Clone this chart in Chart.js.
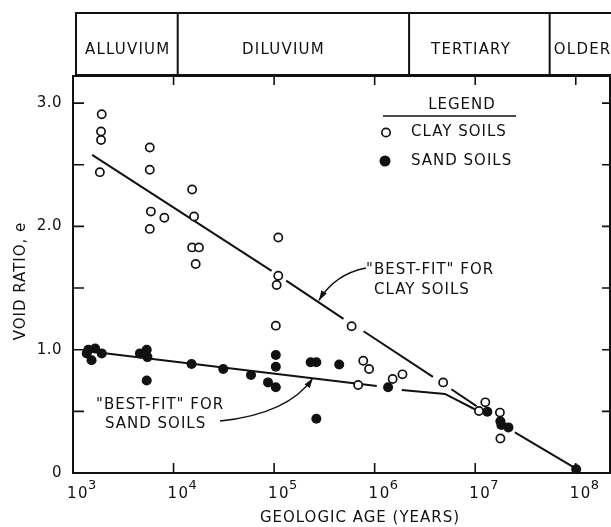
<!DOCTYPE html>
<html>
<head>
<meta charset="utf-8">
<script src="https://cdn.jsdelivr.net/npm/chart.js@4.4.1/dist/chart.umd.min.js"></script>
<style>
  html, body { margin: 0; padding: 0; background: #fff; }
  canvas { display: block; }
</style>
</head>
<body>
<canvas id="c" width="611" height="527"></canvas>
<script>
// Void ratio of natural soil deposits against geologic age (log scale)

// Clay soils (open circles): age in years, void ratio e
const clayAge  = [1.93e3, 1.9e3, 1.9e3, 1.85e3, 5.8e3, 5.8e3, 5.95e3, 5.8e3, 8.1e3,
                  1.53e4, 1.6e4, 1.53e4, 1.79e4, 1.66e4,
                  1.1e5, 1.1e5, 1.06e5, 1.04e5,
                  5.9e5, 7.7e5, 8.8e5, 6.85e5, 1.51e6, 1.89e6, 4.8e6,
                  1.26e7, 1.09e7, 1.76e7, 1.78e7];
const clayVoid = [2.91, 2.77, 2.70, 2.44, 2.64, 2.46, 2.12, 1.98, 2.07,
                  2.30, 2.08, 1.83, 1.83, 1.695,
                  1.91, 1.60, 1.525, 1.195,
                  1.19, 0.91, 0.843, 0.714, 0.762, 0.80, 0.735,
                  0.573, 0.503, 0.49, 0.28];

// Sand soils (filled circles)
const sandAge  = [1.37e3, 1.42e3, 1.66e3, 1.93e3, 1.53e3, 4.63e3, 5.41e3, 5.5e3, 5.41e3,
                  1.51e4, 3.12e4, 5.89e4, 1.04e5, 1.04e5, 8.7e4, 1.04e5,
                  2.31e5, 2.63e5, 4.44e5, 2.63e5, 1.36e6,
                  1.32e7, 1.82e7, 2.14e7, 1.78e7, 1.01e8];
const sandVoid = [0.97, 1.00, 1.01, 0.97, 0.915, 0.97, 1.00, 0.94, 0.75,
                  0.884, 0.843, 0.795, 0.957, 0.862, 0.735, 0.695,
                  0.898, 0.898, 0.88, 0.44, 0.695,
                  0.497, 0.39, 0.37, 0.42, 0.03];

// Best-fit lines, drawn in pieces (null = break in the drawn line)
const clayFitAge  = [1.55e3, 9.44e4, null, 1.32e5, 4.9e5, null, 7.76e5, 3.8e6, null,
                     5.8e6, 1.03e7, null, 2.48e7, 9.4e7];
const clayFitVoid = [2.58, 1.64, null, 1.56, 1.25, null, 1.15, 0.78, null,
                     0.679, 0.543, null, 0.33, 0.05];
const sandFitAge  = [1.35e3, 1.05e6, null, 1.86e6, 5.0e6, 9.9e6];
const sandFitVoid = [0.99, 0.705, null, 0.673, 0.641, 0.517];

// Axes
const ageMin = 1e3, ageMax = 2.19e8;
const voidMin = 0, voidMax = 3.22;
const ageDecades = [3, 4, 5, 6, 7, 8];
const voidLabelValues = [0, 1.0, 2.0, 3.0];
const voidLabels = ['0', '1.0', '2.0', '3.0'];
const voidTickValues = [0.5, 1.0, 1.5, 2.0, 2.5, 3.0];

// Geologic periods along the top
const periodNames = ['ALLUVIUM', 'DILUVIUM', 'TERTIARY', 'OLDER'];
const periodBounds = [1.1e4, 2.2e6, 5.5e7];
const periodLabelAge = [3.5e3, 1.24e5, 9.1e6, 1.17e8];

const ink = '#111';
const FONT = '"DejaVu Sans", sans-serif';

function pts(xs, ys) {
  return xs.map((v, i) => (v === null ? { x: NaN, y: null } : { x: v, y: ys[i] }));
}

function arrow(ctx, x0, y0, cx, cy, x1, y1) {
  ctx.beginPath();
  ctx.moveTo(x0, y0);
  ctx.quadraticCurveTo(cx, cy, x1, y1);
  ctx.stroke();
  const ang = Math.atan2(y1 - cy, x1 - cx);
  const L = 10, W = 3.2;
  ctx.beginPath();
  ctx.moveTo(x1, y1);
  ctx.lineTo(x1 - L * Math.cos(ang) + W * Math.sin(ang), y1 - L * Math.sin(ang) - W * Math.cos(ang));
  ctx.lineTo(x1 - L * Math.cos(ang) - W * Math.sin(ang), y1 - L * Math.sin(ang) + W * Math.cos(ang));
  ctx.closePath();
  ctx.fill();
}

const decor = {
  id: 'decor',
  beforeDatasetsDraw(chart) {
    const { ctx, chartArea: a, scales: { x, y } } = chart;
    ctx.save();
    ctx.strokeStyle = ink;
    ctx.fillStyle = ink;
    ctx.lineCap = 'butt';

    // plot frame
    ctx.lineWidth = 2;
    ctx.strokeRect(a.left, a.top, a.right - a.left, a.bottom - a.top);

    // inward tick marks
    ctx.lineWidth = 1.6;
    ctx.beginPath();
    ageDecades.forEach(d => {
      if (d === 3) return;
      const px = x.getPixelForValue(Math.pow(10, d));
      ctx.moveTo(px, a.bottom); ctx.lineTo(px, a.bottom - 10);
      ctx.moveTo(px, a.top);    ctx.lineTo(px, a.top + 9);
    });
    voidTickValues.forEach(v => {
      const py = y.getPixelForValue(v);
      ctx.moveTo(a.left, py);  ctx.lineTo(a.left + 11, py);
      ctx.moveTo(a.right, py); ctx.lineTo(a.right - 8, py);
    });
    ctx.stroke();

    // geologic period band
    const bandTop = 13, bandBottom = a.top - 1;
    ctx.lineWidth = 2;
    ctx.beginPath();
    ctx.moveTo(a.left + 3, bandBottom); ctx.lineTo(a.left + 3, bandTop);
    ctx.lineTo(chart.width + 2, bandTop);
    ctx.moveTo(a.left + 3, bandBottom); ctx.lineTo(chart.width + 2, bandBottom);
    periodBounds.forEach(b => {
      const px = x.getPixelForValue(b);
      ctx.moveTo(px, bandTop); ctx.lineTo(px, bandBottom);
    });
    ctx.stroke();

    ctx.font = '15px ' + FONT;
    ctx.letterSpacing = '1.2px';
    ctx.textBaseline = 'middle';
    ctx.textAlign = 'center';
    periodNames.forEach((n, i) => {
      ctx.fillText(n, x.getPixelForValue(periodLabelAge[i]), 50);
    });

    // void ratio labels
    ctx.textAlign = 'right';
    ctx.letterSpacing = '0.5px';
    voidLabelValues.forEach((v, i) => {
      ctx.fillText(voidLabels[i], 62, y.getPixelForValue(v));
    });

    // age labels: 10 with exponent
    ageDecades.forEach(d => {
      const px = x.getPixelForValue(Math.pow(10, d));
      ctx.font = '15px ' + FONT;
      ctx.letterSpacing = '1.5px';
      ctx.textAlign = 'center';
      ctx.fillText('10', px + 5, 494);
      ctx.font = '13px ' + FONT;
      ctx.letterSpacing = '0px';
      ctx.textAlign = 'left';
      ctx.fillText(String(d), px + 15, 486);
    });

    // axis titles
    ctx.font = '15px ' + FONT;
    ctx.letterSpacing = '1px';
    ctx.textAlign = 'center';
    ctx.fillText('GEOLOGIC AGE (YEARS)', 360, 518);
    ctx.save();
    ctx.translate(21, 281);
    ctx.rotate(-Math.PI / 2);
    ctx.fillText('VOID RATIO, e', 0, 0);
    ctx.restore();

    // legend
    ctx.textAlign = 'center';
    ctx.fillText('LEGEND', 462, 105);
    ctx.lineWidth = 1.5;
    ctx.beginPath();
    ctx.moveTo(383, 116); ctx.lineTo(516, 116);
    ctx.stroke();
    ctx.textAlign = 'left';
    ctx.fillText('CLAY SOILS', 411, 132.5);
    ctx.fillText('SAND SOILS', 411, 161);
    ctx.lineWidth = 1.7;
    ctx.beginPath();
    ctx.arc(386, 132.5, 4.2, 0, Math.PI * 2);
    ctx.stroke();
    ctx.beginPath();
    ctx.arc(385, 161, 5.5, 0, Math.PI * 2);
    ctx.fill();

    // best-fit annotations
    ctx.fillText('"BEST-FIT" FOR', 366, 270);
    ctx.fillText('CLAY SOILS', 374, 290);
    ctx.fillText('"BEST-FIT" FOR', 96, 405);
    ctx.fillText('SAND SOILS', 105, 424.5);

    ctx.lineWidth = 1.4;
    const cTip = [x.getPixelForValue(2.79e5), y.getPixelForValue(1.40)];
    arrow(ctx, 366, 268, 335, 274, cTip[0], cTip[1]);
    const sTip = [x.getPixelForValue(2.43e5), y.getPixelForValue(0.77)];
    arrow(ctx, 220, 421, 288, 414, sTip[0], sTip[1]);

    ctx.restore();
  }
};

new Chart(document.getElementById('c'), {
  type: 'scatter',
  data: {
    datasets: [
      {
        label: 'CLAY SOILS',
        data: pts(clayAge, clayVoid),
        pointStyle: 'circle',
        pointRadius: 4.1,
        pointBorderWidth: 1.7,
        borderColor: ink,
        backgroundColor: '#fff',
        clip: 8
      },
      {
        label: 'SAND SOILS',
        data: pts(sandAge, sandVoid),
        pointStyle: 'circle',
        pointRadius: 5,
        pointBorderWidth: 0,
        borderColor: ink,
        backgroundColor: ink,
        clip: 8
      },
      {
        type: 'line',
        label: 'clay fit',
        data: pts(clayFitAge, clayFitVoid),
        borderColor: ink,
        borderWidth: 2,
        pointRadius: 0,
        spanGaps: false,
        fill: false
      },
      {
        type: 'line',
        label: 'sand fit',
        data: pts(sandFitAge, sandFitVoid),
        borderColor: ink,
        borderWidth: 2,
        pointRadius: 0,
        spanGaps: false,
        fill: false
      }
    ]
  },
  options: {
    responsive: false,
    animation: false,
    devicePixelRatio: 1,
    layout: { autoPadding: false, padding: { top: 76, right: 1, left: 0, bottom: 0 } },
    plugins: { legend: { display: false }, tooltip: { enabled: false } },
    scales: {
      x: {
        type: 'logarithmic',
        min: ageMin, max: ageMax,
        ticks: { display: false },
        grid: { display: false },
        border: { display: false },
        afterFit(s) { s.height = 54; }
      },
      y: {
        min: voidMin, max: voidMax,
        ticks: { display: false },
        grid: { display: false },
        border: { display: false },
        afterFit(s) { s.width = 73; }
      }
    }
  },
  plugins: [decor]
});
</script>
</body>
</html>
